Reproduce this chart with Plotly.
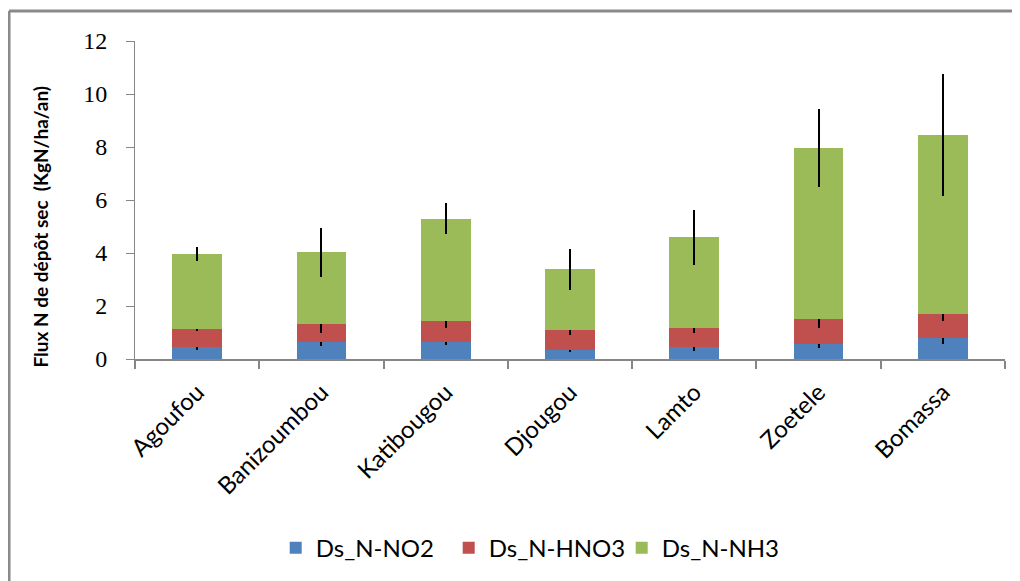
import plotly.graph_objects as go

sites = ["Agoufou", "Banizoumbou", "Katibougou", "Djougou", "Lamto", "Zoetele", "Bomassa"]
no2 = [0.46, 0.63, 0.64, 0.34, 0.46, 0.56, 0.79]
hno3 = [0.67, 0.69, 0.79, 0.75, 0.71, 0.94, 0.90]
nh3 = [2.82, 2.70, 3.87, 2.29, 3.42, 6.47, 6.77]
err_no2 = [0.12, 0.145, 0.10, 0.07, 0.17, 0.13, 0.23]
err_hno3 = [0.09, 0.33, 0.26, 0.19, 0.17, 0.34, 0.26]
err_nh3 = [0.26, 0.94, 0.57, 0.77, 1.03, 1.48, 2.30]
names = ["Ds_N-NO2", "Ds_N-HNO3", "Ds_N-NH3"]
colors = ["#4F81BD", "#C0504D", "#9BBB59"]
y_title = "<b>Flux N de dépôt sec  (KgN/ha/an)</b>"

fig = go.Figure()
for vals, errs, name, col in zip([no2, hno3, nh3], [err_no2, err_hno3, err_nh3], names, colors):
    fig.add_trace(go.Bar(
        x=sites, y=vals, name=name, marker=dict(color=col, line=dict(width=0)),
        error_y=dict(type="data", array=errs, visible=True, color="black", thickness=2, width=0),
    ))

# page has an 8px body margin: figure drawn 8px right/down
fig.update_layout(
    barmode="stack",
    bargap=0.6,
    width=1012, height=573,
    margin=dict(l=127, r=15, t=33, b=221),
    plot_bgcolor="white", paper_bgcolor="white",
    font=dict(family="Lato, Liberation Sans, sans-serif", color="black"),
    showlegend=True,
    legend=dict(orientation="h", x=0.46, xanchor="center", y=-0.59, yanchor="middle",
                font=dict(size=24, family="Lato"), traceorder="normal",
                entrywidth=128, entrywidthmode="pixels"),
    annotations=[
        dict(text=y_title, xref="paper", yref="paper", x=-0.109, y=0.417,
             xanchor="center", yanchor="middle", textangle=-90, showarrow=False,
             font=dict(size=19, family="Lato", color="black")),
    ],
    shapes=[
        dict(type="line", xref="paper", yref="paper", x0=-0.1448, x1=-0.1448, y0=-0.75, y1=1.094,
             line=dict(color="#8a8a8a", width=3)),
        dict(type="line", xref="paper", yref="paper", x0=-0.1448, x1=1.1, y0=1.094, y1=1.094,
             line=dict(color="#8a8a8a", width=3)),
    ],
)
fig.update_xaxes(
    showline=True, linecolor="#868686", linewidth=1.5,
    ticks="outside", tickson="boundaries", ticklen=8, tickcolor="#868686", tickwidth=2,
    tickangle=-45, tickfont=dict(size=24, family="Lato"), ticklabelstandoff=8,
)
fig.update_yaxes(
    range=[0, 12], dtick=2, showgrid=False, zeroline=False,
    showline=True, linecolor="#868686", linewidth=1,
    ticks="outside", ticklen=8, tickcolor="#868686",
    tickfont=dict(size=24, family="Liberation Serif"), ticklabelstandoff=14,
)

fig.write_html("out.html")
